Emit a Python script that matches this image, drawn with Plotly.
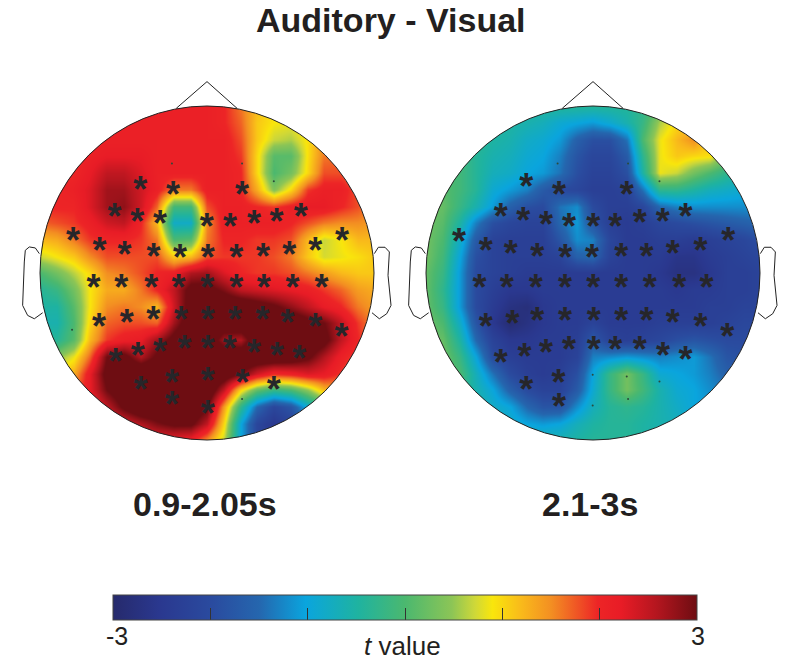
import plotly.graph_objects as go

# Scalp maps use a head of radius 500 units; the value grid is sampled every 50 units.
grid_axis = list(range(-500, 501, 50))
grid_rows = list(range(500, -501, -50))

t_early = [
    [2,2,2,2,2.1,2.1,2.1,2.1,2.1,2.1,2.1,2.0,1.6,1.2,0.9,0.9,1,1.2,1.3,1.3,1.3],
    [2,2,2,2,2.1,2.1,2.1,2.1,2.1,2.1,2.1,2.0,1.7,1.1,0.9,0.85,1.0,1.2,1.3,1.3,1.3],
    [2,2,2,2.1,2.1,2.1,2.1,2.1,2.1,2.1,2.1,2.1,1.8,1.1,0.7,0.6,0.95,1.5,1.5,1.4,1.4],
    [2,2,2,2.1,2.2,2.2,2.2,2.1,2.1,2.1,2.1,2.1,1.9,1.0,0.1,0.1,0.95,1.6,1.7,1.6,1.5],
    [2,2,2,2.2,2.5,2.5,2.3,2.1,2.1,2.1,2.1,2.1,2.0,1.0,0.0,0.3,1.0,1.8,1.8,1.7,1.5],
    [2,2.0,2.1,2.3,2.7,2.7,2.4,2.1,1.6,1.6,2.1,2.1,2.0,1.3,0.4,1.0,1.9,2.1,2.1,1.8,1.5],
    [2,2,2.0,2.3,2.7,2.8,2.4,1.7,-0.1,-0.1,1.8,2.1,2.1,2.0,1.9,2.1,2.2,2.2,2.0,1.8,1.5],
    [1.7,1.8,1.9,2.1,2.4,2.5,2.0,1.2,-0.8,-0.8,1.5,2.1,2.1,2.1,2.1,2.0,1.8,1.6,1.5,1.5,1.4],
    [1.2,1.3,1.6,1.9,2.0,2.0,1.9,1.6,0.0,0.1,1.6,2.0,2.0,1.9,1.9,1.8,1.2,0.7,0.9,1.2,1.2],
    [0.7,0.9,1.1,1.5,1.8,1.8,1.8,1.8,1.1,1.2,1.8,1.9,1.9,1.9,1.8,1.6,1.1,0.75,0.85,0.95,1.1],
    [0.0,0.3,0.65,1.0,1.5,1.6,1.8,2.0,2.1,2.6,2.7,2.3,2.0,1.9,1.9,1.8,1.6,1.4,1.2,1.1,1.1],
    [-0.4,-0.2,0.3,0.9,1.3,1.3,1.6,2.0,2.5,3.2,3.2,2.9,2.5,2.4,2.3,2.2,2.1,1.9,1.7,1.4,1.3],
    [-0.5,-0.5,0.1,0.9,1.5,1.6,1.5,1.2,2.4,3.3,3.5,3.5,3.5,3.3,3.1,2.8,2.5,2.2,2.0,1.6,1.4],
    [-0.6,-0.6,0.0,1.0,1.7,1.8,1.8,1.7,2.7,3.4,3.5,3.4,3.5,3.5,3.5,3.5,3.2,3.0,2.5,1.9,1.5],
    [-0.3,-0.4,0.1,1.2,1.9,2.1,2.2,2.7,3.2,3.6,3.5,2.7,2.6,3.5,3.6,3.6,3.5,3.2,2.5,2.0,1.5],
    [0.4,0.4,0.85,1.7,3.0,3.2,2.6,3.1,3.5,3.6,3.6,3.5,3.5,3.5,3.5,3.4,3.1,2.6,2.1,1.8,1.5],
    [1,1,1.3,2.2,3.2,3.5,3.6,3.6,3.6,3.6,3.5,3.4,3.0,2.4,2.0,2.1,2.3,2.2,1.9,1.6,1.4],
    [1.5,1.5,1.7,2.2,3.0,3.4,3.5,3.6,3.6,3.6,3.5,2.5,1.0,0.2,-0.2,0.0,0.5,1.2,1.4,1.3,1.3],
    [1.8,1.8,1.9,2.0,2.5,3.1,3.5,3.5,3.6,3.5,3.1,1.4,-0.3,-1.5,-2.1,-1.8,-0.9,-0.2,0.8,1,1],
    [2,2,2,2,2.1,2.3,2.6,2.9,3.1,3.1,2.5,1.0,-1.0,-2.1,-2.5,-2.2,-1.5,-1,0,0.5,0.5],
    [2,2,2,2,2,2.1,2.1,2.2,2.2,2.1,1.5,0.7,-1.0,-2.1,-2.5,-2.3,-1.8,-1,0,0.5,0.5],
]

t_late = [
    [-0.2,-0.2,-0.2,-0.2,-0.3,-0.4,-0.4,-0.4,-0.4,-0.4,-0.4,-0.4,-0.4,-0.3,0.1,0.5,0.8,0.9,1,1,1],
    [-0.1,-0.1,-0.2,-0.3,-0.4,-0.5,-0.6,-0.7,-0.9,-1.0,-1.1,-0.9,-0.6,-0.2,0.6,1.0,1.1,1.2,1.1,1,1],
    [0,0,-0.1,-0.3,-0.5,-0.6,-0.8,-0.9,-1.1,-1.6,-1.9,-1.9,-1.4,0.0,0.85,1.2,1.5,1.1,0.8,0.4,0.3],
    [0,0,-0.1,-0.4,-0.6,-0.7,-0.9,-1.0,-1.3,-1.8,-2.1,-2.1,-1.7,-0.3,0.85,1.1,1.0,0.95,0.3,0,0],
    [0.1,0.1,-0.1,-0.4,-0.7,-0.8,-1,-1.1,-1.4,-1.9,-2.2,-2.2,-1.9,-0.5,0.85,0.7,0.3,0.0,-0.3,-0.5,-0.5],
    [0.2,0.1,-0.1,-0.4,-0.9,-1.1,-1.3,-1.7,-2.0,-2.1,-2.3,-2.3,-2.2,-1.4,-0.3,-0.3,-0.5,-0.7,-0.8,-0.9,-0.9],
    [0.3,0.2,-0.2,-0.6,-1.1,-1.6,-1.9,-2.0,-1.4,-1.2,-2.0,-2.3,-2.3,-2.1,-1.5,-1.3,-1.2,-1.2,-1.2,-1.2,-1.2],
    [0.3,0.1,-0.5,-1.3,-1.9,-2.1,-2.2,-2.2,-1.5,-1.1,-1.8,-2.3,-2.4,-2.3,-2.1,-2.0,-1.9,-1.8,-1.7,-1.6,-1.5],
    [0.3,0.0,-0.8,-1.7,-2.2,-2.3,-2.3,-2.3,-1.8,-1.2,-1.3,-2.1,-2.4,-2.4,-2.3,-2.3,-2.4,-2.3,-2.2,-2.1,-1.9],
    [0.3,-0.1,-1.0,-1.9,-2.2,-2.3,-2.3,-2.3,-2.2,-1.6,-1.5,-2.2,-2.4,-2.4,-2.4,-2.6,-2.6,-2.4,-2.3,-2.2,-2.1],
    [0.2,-0.2,-1.1,-2.0,-2.2,-2.3,-2.4,-2.4,-2.4,-2.4,-2.4,-2.4,-2.4,-2.4,-2.5,-2.7,-2.7,-2.5,-2.3,-2.3,-2.2],
    [0.2,-0.3,-1.1,-2.0,-2.3,-2.5,-2.5,-2.4,-2.4,-2.4,-2.4,-2.4,-2.4,-2.4,-2.4,-2.5,-2.4,-2.4,-2.3,-2.3,-2.2],
    [0.2,-0.2,-1.1,-2.0,-2.4,-2.7,-2.8,-2.5,-2.4,-2.4,-2.4,-2.4,-2.4,-2.4,-2.4,-2.4,-2.4,-2.3,-2.3,-2.2,-2.2],
    [0.3,0.0,-0.8,-1.8,-2.5,-2.9,-2.7,-2.5,-2.4,-2.4,-2.2,-2.4,-2.4,-2.4,-2.3,-2.3,-2.3,-2.3,-2.2,-2.1,-2.1],
    [0.3,0.2,-0.5,-1.5,-2.2,-2.5,-2.5,-2.4,-2.4,-2.3,-1.7,-2.2,-2.3,-2.2,-2.1,-1.9,-1.8,-1.9,-2.0,-2.0,-2.0],
    [0.3,0.3,-0.2,-1.0,-2.0,-2.3,-2.4,-2.4,-2.4,-2.2,-1.3,-1.2,-1.1,-1.2,-1.3,-1.2,-1.1,-1.4,-1.8,-1.9,-1.9],
    [0.2,0.2,0,-0.7,-1.4,-2.0,-2.3,-2.4,-2.3,-1.9,-1.0,-0.2,0.3,-0.2,-0.9,-1.0,-1.1,-1.3,-1.6,-1.7,-1.7],
    [0,0,-0.2,-0.6,-1.0,-1.6,-2.0,-2.2,-2.2,-1.7,-0.9,-0.2,0.3,-0.1,-0.6,-0.9,-1.0,-1.2,-1.4,-1.4,-1.4],
    [-0.2,-0.2,-0.3,-0.5,-0.8,-1.0,-1.5,-1.8,-1.8,-1.2,-0.7,-0.4,-0.3,-0.4,-0.6,-0.8,-1.0,-1.1,-1.2,-1.2,-1.2],
    [-0.3,-0.3,-0.4,-0.5,-0.6,-0.8,-1.0,-1.1,-1.0,-0.7,-0.5,-0.4,-0.4,-0.5,-0.6,-0.7,-0.9,-1,-1,-1,-1],
    [-0.4,-0.4,-0.4,-0.5,-0.5,-0.5,-0.6,-0.6,-0.6,-0.5,-0.4,-0.4,-0.4,-0.5,-0.6,-0.7,-0.8,-0.9,-0.9,-0.9,-0.9],
]

# Significant electrodes, head units (x to the right ear, y to the nose).
sig_early_x = [-200,-102,105,-277,-209,-141,-1,69,141,208,281,-401,-322,-247,-160,-81,2,88,168,246,324,404,
               -340,-257,-167,-85,1,88,170,256,343,-323,-240,-161,-78,2,84,166,241,324,403,
               -274,-207,-141,-67,2,68,141,210,276,-198,-105,2,106,200,-105,2]
sig_early_y = [267,252,253,186,172,165,156,156,165,172,187,115,86,73,67,63,63,63,67,74,86,116,
               -27,-27,-27,-27,-27,-27,-27,-27,-27,-143,-131,-123,-122,-122,-122,-123,-131,-143,-173,
               -247,-230,-219,-208,-210,-209,-220,-229,-240,-330,-310,-303,-310,-332,-377,-402]
sig_late_x = [-200,-102,101,-276,-209,-141,-72,1,67,140,209,277,-401,-321,-246,-167,-83,-3,85,160,239,322,405,
              -340,-258,-171,-84,1,85,170,258,340,-321,-241,-167,-84,2,85,160,239,322,402,
              -276,-205,-141,-72,2,67,140,210,277,-200,-103,-102]
sig_late_y = [275,253,253,187,174,164,156,158,158,168,173,187,113,85,75,68,65,65,68,68,75,85,115,
              -27,-27,-27,-27,-27,-27,-27,-27,-27,-143,-133,-124,-124,-124,-124,-124,-132,-143,-173,
              -250,-232,-222,-211,-211,-211,-211,-230,-243,-332,-311,-381]

# Remaining electrodes, shown as tiny dots.
dot_early_x = [-105, 105, 200, -404, 105]
dot_early_y = [328, 328, 275, -170, -377]
dot_late_x = [-106, 105, 199, -1, 101, 199, 105, -1]
dot_late_y = [328, 328, 275, -305, -310, -325, -377, -397]

nose_x = [-92, 0, 90]
nose_y = [493, 573, 493]
ear_left_x = [-502, -514, -532, -544, -547, -552, -537, -517, -492]
ear_left_y = [58, 75, 78, 68, 33, -97, -127, -137, -119]
ear_right_x = [501, 513, 533, 546, 542, 551, 538, 516, 494]
ear_right_y = [58, 77, 77, 63, -7, -97, -122, -137, -119]

color_stops = [
    [0.00, "#262a6c"], [0.08, "#2a388f"], [0.17, "#2a4b9f"], [0.25, "#2566ae"],
    [0.33, "#0aa5de"], [0.42, "#1fb3a0"], [0.50, "#4bb86f"], [0.58, "#8cc556"],
    [0.62, "#cfd838"], [0.65, "#f9e60c"], [0.70, "#f9b91b"], [0.75, "#f38f22"],
    [0.80, "#ef4e25"], [0.83, "#ed2526"], [0.87, "#e81c26"], [0.93, "#b5161f"],
    [1.00, "#6e0d12"],
]
cbar_ticks = [-3, -2, -1, 0, 1, 2, 3]

PAGE_W, PAGE_H = 788, 664
HALF_SPAN = 575
PX_PER_UNIT = 167 / 500
STAR_DROP = 28   # lifts the "*" glyph centre back onto its electrode


def polyline(xs, ys):
    return "M" + " L".join(f"{x},{y}" for x, y in zip(xs, ys))


def disc_mask():
    # Square with a circular hole, so only the scalp disc shows through.
    s, r, k = HALF_SPAN, 500, 276
    return (f"M{-s},{-s} L{s},{-s} L{s},{s} L{-s},{s} Z "
            f"M{r},0 C{r},{k} {k},{r} 0,{r} C{-k},{r} {-r},{k} {-r},0 "
            f"C{-r},{-k} {-k},{-r} 0,{-r} C{k},{-r} {r},{-k} {r},0 Z")


fig = go.Figure()
panels = [
    ("x", "y", 207, t_early, sig_early_x, sig_early_y, dot_early_x, dot_early_y),
    ("x2", "y2", 593, t_late, sig_late_x, sig_late_y, dot_late_x, dot_late_y),
]
span_px = HALF_SPAN * PX_PER_UNIT
CENTER_Y = 273
layout_axes = {}
shapes = []

for xa, ya, cx, z, sx, sy, dx, dy in panels:
    fig.add_trace(go.Heatmap(x=grid_axis, y=grid_rows, z=z, zsmooth="best",
                             coloraxis="coloraxis", xaxis=xa, yaxis=ya, hoverinfo="skip"))
    fig.add_trace(go.Scatter(x=dx, y=dy, mode="markers", xaxis=xa, yaxis=ya, hoverinfo="skip",
                             marker=dict(size=2, color="#2b4a3a")))
    fig.add_trace(go.Scatter(x=sx, y=[v - STAR_DROP for v in sy], mode="text",
                             text=["*"] * len(sx), textposition="middle center",
                             textfont=dict(family="Liberation Sans", size=36, color="#26262a",
                                           weight="bold"),
                             xaxis=xa, yaxis=ya, hoverinfo="skip"))
    name_x = "xaxis" + xa[1:]
    name_y = "yaxis" + ya[1:]
    layout_axes[name_x] = dict(visible=False, range=[-HALF_SPAN, HALF_SPAN],
                               domain=[(cx - span_px) / PAGE_W, (cx + span_px) / PAGE_W])
    layout_axes[name_y] = dict(visible=False, range=[-HALF_SPAN, HALF_SPAN],
                               domain=[1 - (CENTER_Y + span_px) / PAGE_H, 1 - (CENTER_Y - span_px) / PAGE_H])
    refs = dict(xref=xa, yref=ya, layer="above")
    outline = dict(color="#222222", width=1)
    shapes.append(dict(type="path", path=disc_mask(), fillcolor="white", line=dict(width=0), **refs))
    shapes.append(dict(type="circle", x0=-500, x1=500, y0=-500, y1=500, line=outline, **refs))
    shapes.append(dict(type="path", path=polyline(nose_x, nose_y), line=outline, **refs))
    shapes.append(dict(type="path", path=polyline(ear_left_x, ear_left_y), line=outline, **refs))
    shapes.append(dict(type="path", path=polyline(ear_right_x, ear_right_y), line=outline, **refs))


def page_note(text, px, py, size, bold=True):
    return dict(text=f"<b>{text}</b>" if bold else text, x=px / PAGE_W, y=1 - py / PAGE_H,
                xref="paper", yref="paper", showarrow=False, xanchor="center", yanchor="middle",
                font=dict(family="Liberation Sans", size=size, color="#231f20"))


fig.update_layout(
    width=PAGE_W, height=PAGE_H, autosize=False, showlegend=False,
    margin=dict(l=0, r=0, t=0, b=0, autoexpand=False), paper_bgcolor="white", plot_bgcolor="white",
    coloraxis=dict(
        cmin=-3, cmax=3, colorscale=color_stops,
        colorbar=dict(
            orientation="h", lenmode="pixels", len=584, thicknessmode="pixels", thickness=25,
            x=405 / PAGE_W, xanchor="center", y=1 - 595 / PAGE_H, yanchor="top", ypad=0, xpad=0,
            tickvals=cbar_ticks, showticklabels=False, ticks="inside", ticklen=12, tickwidth=1,
            tickcolor="#333333", outlinecolor="#444444", outlinewidth=1,
        ),
    ),
    shapes=shapes,
    annotations=[
        page_note("Auditory - Visual", 391, 19.5, 34),
        page_note("0.9-2.05s", 205, 504, 34),
        page_note("2.1-3s", 590, 504, 34),
        page_note("-3", 117, 636, 25, bold=False),
        page_note("3", 698, 636, 25, bold=False),
        page_note("<i>t</i> value", 402, 646, 26, bold=False),
    ],
    **layout_axes,
)

fig.write_html("out.html")
